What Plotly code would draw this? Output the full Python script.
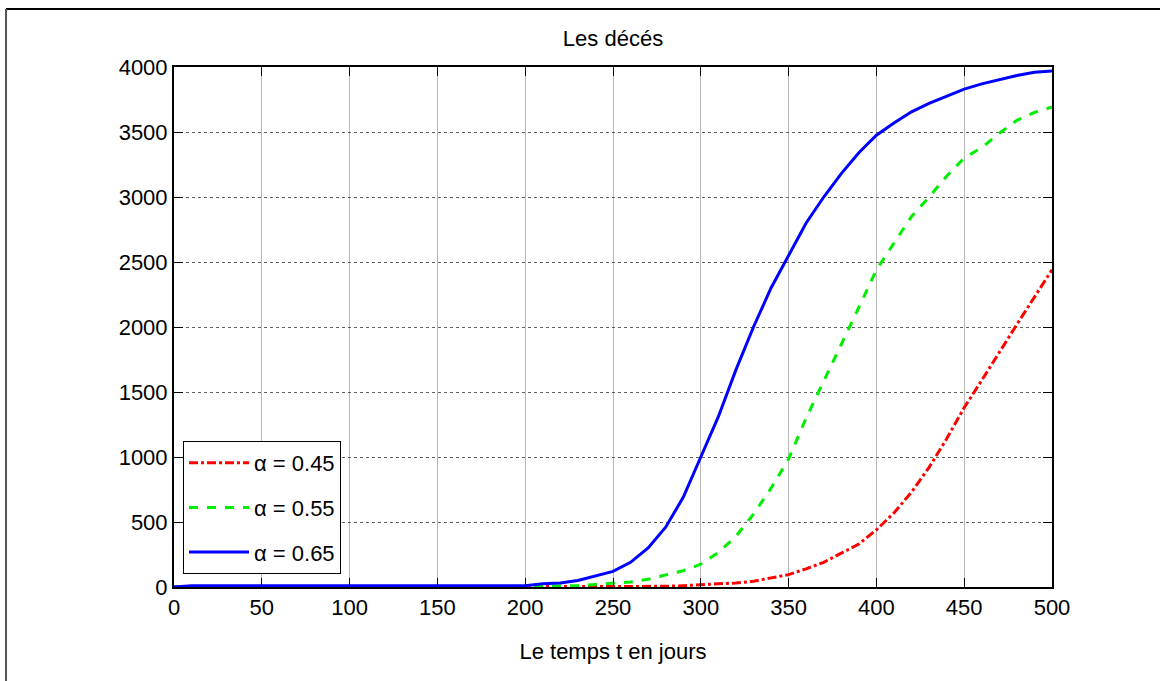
import plotly.graph_objects as go

t_days = list(range(0, 510, 10))

deaths_045 = [0, 0, 0, 0, 0, 0, 0, 0, 0, 0,
              0, 0, 0, 0, 0, 0, 0, 0, 0, 0,
              0, 0, 0, 0, 0, 0, 0, 3, 5, 10,
              20, 25, 30, 45, 70, 95, 140, 190, 260, 330,
              440, 570, 730, 920, 1140, 1380, 1590, 1810, 2020, 2230,
              2440]

deaths_055 = [0, 0, 0, 0, 0, 0, 0, 0, 0, 0,
              0, 0, 0, 0, 0, 0, 0, 0, 0, 0,
              0, 5, 8, 10, 20, 30, 38, 60, 90, 125,
              175, 265, 390, 560, 760, 985, 1300, 1580, 1870, 2150,
              2440, 2640, 2850, 3000, 3160, 3300, 3380, 3490, 3590, 3650,
              3692]

deaths_065 = [0, 10, 10, 10, 10, 10, 10, 10, 10, 10,
              10, 10, 10, 10, 10, 10, 10, 10, 10, 10,
              10, 25, 30, 50, 85, 120, 190, 300, 460, 690,
              1000, 1310, 1670, 2000, 2300, 2555, 2800, 3000, 3180, 3340,
              3475, 3570, 3655, 3720, 3775, 3830, 3870, 3905, 3935, 3960,
              3970]

labels = ["α = 0.45", "α = 0.55", "α = 0.65"]
colors = ["#ff0000", "#00ee00", "#0000ff"]
dashes = ["dashdot", "dash", "solid"]

FONT = "Liberation Sans Narrow, Arial Narrow, Liberation Sans, Arial, sans-serif"
FS = 22

fig = go.Figure()
for i, (ys, lab, col, dsh) in enumerate(zip([deaths_045, deaths_055, deaths_065], labels, colors, dashes)):
    fig.add_trace(go.Scatter(x=t_days, y=ys, mode="lines", name=lab, legendgroup=f"g{i}",
                             line=dict(color=col, width=3, dash=dsh)))

L, R, T, B = 174, 108, 67, 94
W, H = 1160, 681
pw, ph = W - L - R, H - T - B

def px2paper_x(px):
    return (px - L) / pw

def px2paper_y(py):
    return (H - B - py) / ph

fig.update_layout(
    width=W, height=H,
    margin=dict(l=L, r=R, t=T, b=B),
    paper_bgcolor="white", plot_bgcolor="white",
    font=dict(family=FONT, size=FS, color="black"),
    title=dict(text="Les décés", x=613 / W, xanchor="center",
               y=1 - 38 / H, yanchor="middle", font=dict(size=FS)),
    showlegend=True,
    legend=dict(x=px2paper_x(183), y=px2paper_y(441), xanchor="left", yanchor="top",
                bgcolor="white", bordercolor="black", borderwidth=1,
                font=dict(size=FS), traceorder="grouped", tracegroupgap=13,
                itemwidth=60),
    xaxis=dict(range=[0, 500], tickmode="array", tickvals=list(range(0, 550, 50)),
               showgrid=True, gridcolor="#b8b8b8", gridwidth=1,
               ticks="inside", ticklen=9, tickcolor="black", mirror="ticks",
               showline=True, linecolor="black", linewidth=2,
               zeroline=False, tickfont=dict(size=FS),
               title=dict(text="Le temps t en jours", standoff=24, font=dict(size=FS))),
    yaxis=dict(range=[0, 4000], tickmode="array", tickvals=list(range(0, 4500, 500)),
               showgrid=True, gridcolor="#606060", gridwidth=1, griddash="dot",
               ticks="inside", ticklen=9, tickcolor="black", mirror="ticks",
               showline=True, linecolor="black", linewidth=2,
               zeroline=False, tickfont=dict(size=FS)),
)

# outer figure frame (top and left edges visible)
fig.add_shape(type="line", xref="paper", yref="paper",
              x0=px2paper_x(6), x1=px2paper_x(1160), y0=px2paper_y(9), y1=px2paper_y(9),
              line=dict(color="black", width=2))
fig.add_shape(type="line", xref="paper", yref="paper",
              x0=px2paper_x(6), x1=px2paper_x(6), y0=px2paper_y(9), y1=px2paper_y(681),
              line=dict(color="#555555", width=2))

fig.write_html("out.html", config={"displayModeBar": False},
               post_script="document.body.style.margin='0';document.body.style.overflow='hidden';")
